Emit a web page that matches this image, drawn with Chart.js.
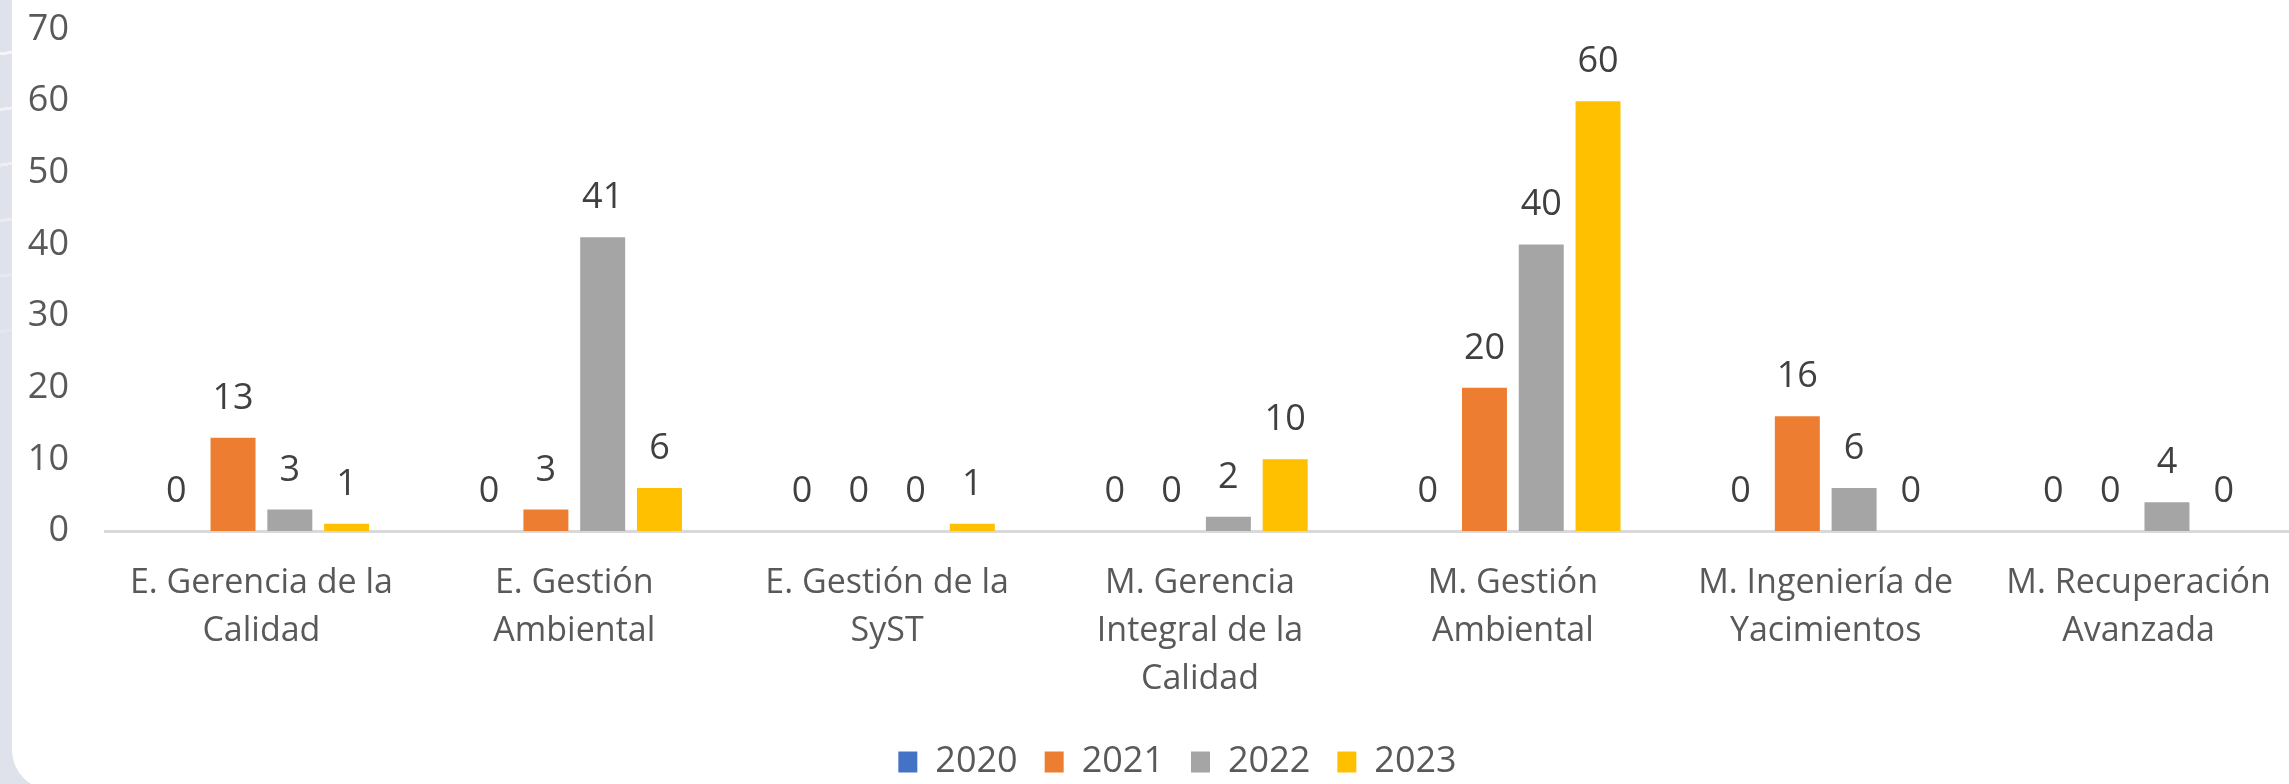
<!DOCTYPE html>
<html>
<head>
<meta charset="utf-8">
<script src="https://cdn.jsdelivr.net/npm/chart.js@4.4.1/dist/chart.umd.min.js"></script>
<style>
  html, body { margin: 0; padding: 0; overflow: hidden; }
  body {
    width: 2289px; height: 784px; position: relative;
    background: #dfe2eb;
  }
  .streaks {
    position: absolute; left: 0; top: 0; width: 12px; height: 420px;
    background: repeating-linear-gradient(172deg, transparent 0 52px, rgba(255,255,255,0.75) 52px 55px);
    -webkit-mask-image: linear-gradient(#000, transparent);
  }
  .panel {
    position: absolute; left: 12px; top: 0; width: 2290px; height: 790px;
    background: #fff; border-bottom-left-radius: 40px;
  }
  canvas { position: absolute; left: 0; top: 0; }
</style>
</head>
<body>
<div class="streaks"></div>
<div class="panel"></div>
<canvas id="chart" width="2296" height="784" style="width:2296px;height:784px"></canvas>
<script>
const categories = [
  ['E. Gerencia de la', 'Calidad'],
  ['E. Gestión', 'Ambiental'],
  ['E. Gestión de la', 'SyST'],
  ['M. Gerencia', 'Integral de la', 'Calidad'],
  ['M. Gestión', 'Ambiental'],
  ['M. Ingeniería de', 'Yacimientos'],
  ['M. Recuperación', 'Avanzada']
];
const years = ['2020', '2021', '2022', '2023'];
const values2020 = [0, 0, 0, 0, 0, 0, 0];
const values2021 = [13, 3, 0, 0, 20, 16, 0];
const values2022 = [3, 41, 0, 2, 40, 6, 4];
const values2023 = [1, 6, 1, 10, 60, 0, 0];
const colors = ['#4472C4', '#ED7D31', '#A5A5A5', '#FFC000'];
const yTicks = [0, 10, 20, 30, 40, 50, 60, 70];

const font = '"Open Sans", sans-serif';

// numbers drawn above every bar, zeros included
const valueLabels = {
  id: 'valueLabels',
  afterLayout(chart) {
    // legend sits a bit right of the canvas centre in the original
    chart.legend.left += 60;
  },
  afterDatasetsDraw(chart) {
    const ctx = chart.ctx;
    ctx.save();
    ctx.font = '36px ' + font;
    ctx.fillStyle = '#404040';
    ctx.textAlign = 'center';
    ctx.textBaseline = 'alphabetic';
    chart.data.datasets.forEach((ds, i) => {
      chart.getDatasetMeta(i).data.forEach((bar, j) => {
        ctx.fillText(ds.data[j], bar.x, bar.y - 29);
      });
    });
    ctx.restore();
  }
};

const series = [values2020, values2021, values2022, values2023];

new Chart(document.getElementById('chart'), {
  type: 'bar',
  data: {
    labels: categories,
    datasets: years.map((y, i) => ({
      label: y,
      data: series[i],
      backgroundColor: colors[i],
      borderWidth: 0,
      categoryPercentage: 0.726,
      barPercentage: 0.792
    }))
  },
  options: {
    responsive: false,
    animation: false,
    devicePixelRatio: 1,
    layout: { padding: { top: 29.5, left: 0, right: 1, bottom: -6 } },
    scales: {
      x: {
        grid: { display: false, drawTicks: false },
        border: { display: true, color: '#d9d9d9', width: 3 },
        ticks: {
          color: '#595959',
          font: { family: font, size: 34, lineHeight: 48 / 34 },
          padding: 28,
          maxRotation: 0,
          autoSkip: false
        },
        afterFit: (s) => { s.height = 186; s.paddingLeft = 0; s.paddingRight = 0; }
      },
      y: {
        min: 0,
        max: 70,
        grid: { display: false, drawTicks: false },
        border: { display: false },
        afterBuildTicks: (s) => { s.ticks = yTicks.map(v => ({ value: v })); },
        ticks: {
          color: '#595959',
          font: { family: font, size: 36 },
          padding: 36
        },
        afterFit: (s) => { s.width = 105; s.paddingTop = 0; s.paddingBottom = 0; }
      }
    },
    plugins: {
      legend: {
        position: 'bottom',
        labels: {
          color: '#595959',
          font: { family: font, size: 36 },
          boxWidth: 19,
          boxHeight: 21,
          padding: 27
        }
      },
      tooltip: { enabled: false }
    }
  },
  plugins: [valueLabels]
});
</script>
</body>
</html>
